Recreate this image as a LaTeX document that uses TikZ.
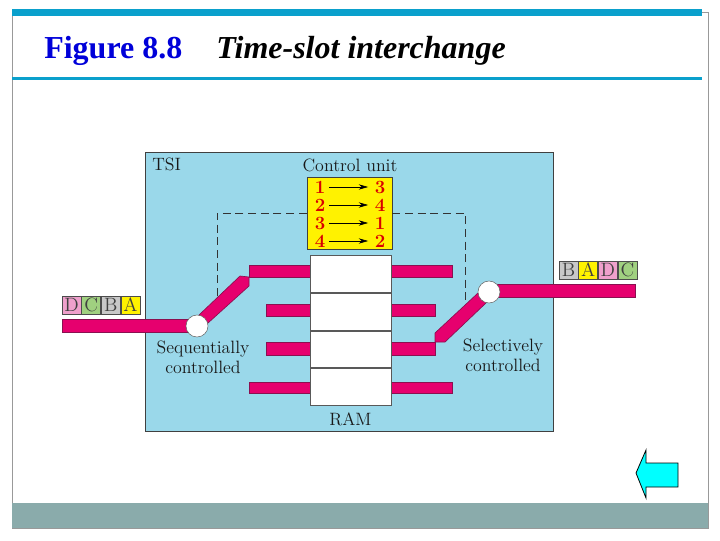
\documentclass[tikz,border=0pt]{standalone}
\usepackage{fontspec}
\newfontfamily\titlefont{Liberation Serif}
\usetikzlibrary{arrows.meta,positioning}

\begin{document}
\begin{tikzpicture}[x=0.75pt,y=-0.75pt,node distance=0pt and 0pt,
    >={Stealth[length=7pt,width=4pt]},
    lbl/.style={inner sep=0pt,align=center,font=\fontsize{13.4}{15}\selectfont,text=black!90},
    num/.style={inner sep=0pt,minimum width=13.5pt,font=\fontsize{14}{14}\selectfont\bfseries,text=red!85!black},
    cell/.style={draw=black!70,line width=0.5pt,minimum width=14.25pt,minimum height=13.5pt,inner sep=0pt,font=\fontsize{14.5}{14.5}\selectfont,text=black!75},
    slot/.style={draw=black!65,line width=0.6pt,fill=white,minimum width=60.75pt,minimum height=27.7pt,inner sep=0pt},
    bar/.style={draw=pinkdark,line width=0.5pt,fill=pinkbar},
    sw/.style={circle,draw=black!60,line width=0.4pt,fill=white,minimum size=16.5pt,inner sep=0pt},
    ctl/.style={dashed,dash pattern=on 6pt off 3.5pt,line width=0.5pt,draw=black!80}]
    \definecolor{pinkbar}{HTML}{E6006E}
    \definecolor{pinkdark}{HTML}{8A1050}
    \definecolor{tsiblue}{HTML}{9AD8EA}
    \definecolor{rulecol}{HTML}{0AA0CC}
    \definecolor{bandcol}{HTML}{8AABAB}
    \definecolor{cellpink}{HTML}{EFA0CC}
    \definecolor{cellgreen}{HTML}{A0D080}
    \definecolor{cellgray}{HTML}{C8C8C8}
    \definecolor{backcyan}{HTML}{00FFFF}
    \useasboundingbox (0,0) rectangle (720,540);
    % slide frame
    \draw[black!40,line width=0.6pt] (12,12) rectangle (708,528);
    \fill[bandcol] (12,503) rectangle (708,528);
    \fill[rulecol] (12,9) rectangle (702,16);
    \fill[rulecol] (12,77) rectangle (702,80);
    \node[anchor=base west,inner sep=0pt,font=\titlefont\bfseries\fontsize{24}{26}\selectfont,text=blue!85!black] (fig) at (44,58) {Figure 8.8};
    \node[anchor=base west,inner sep=0pt,font=\titlefont\bfseries\itshape\fontsize{24}{26}\selectfont] (name) at (216,58) {Time-slot interchange};
    % TSI box
    \node[draw=black!75,line width=0.7pt,fill=tsiblue,minimum width=306pt,minimum height=209.25pt,inner sep=0pt] (tsi) at (349,291.5) {};
    \node[lbl,anchor=base west] (tsilbl) at (152,170) {TSI};
    \node[lbl] (culbl) at (350,165) {Control unit};
    % control unit
    \node[draw=black!75,line width=0.5pt,fill=yellow,minimum width=63.75pt,minimum height=54pt,inner sep=0pt] (cu) at (349.5,213) {};
    \node[num] (a1) at (320,187) {1}; \node[num] (b1) at (380,187) {3};
    \node[num] (a2) at (320,205) {2}; \node[num] (b2) at (380,205) {4};
    \node[num] (a3) at (320,223) {3}; \node[num] (b3) at (380,223) {1};
    \node[num] (a4) at (320,241) {4}; \node[num] (b4) at (380,241) {2};
    \draw[->,shorten >=2pt] (a1)--(b1); \draw[->,shorten >=2pt] (a2)--(b2);
    \draw[->,shorten >=2pt] (a3)--(b3); \draw[->,shorten >=2pt] (a4)--(b4);
    % control lines
    \coordinate (ctlin) at (217,297);
    \coordinate (ctlout) at (465,303);
    \draw[ctl] (cu.west) -| (ctlin);
    \draw[ctl] (cu.east) -| (ctlout);
    % bars on the RAM
    \draw[bar] (249,265) rectangle (310,277);
    \draw[bar] (266,304) rectangle (310,316);
    \draw[bar] (266,342) rectangle (310,355);
    \draw[bar] (249,382) rectangle (310,393);
    \draw[bar] (391,265) rectangle (452,277);
    \draw[bar] (391,304) rectangle (435,316);
    \draw[bar] (391,342) rectangle (435,355);
    \draw[bar] (391,382) rectangle (452,393);
    % RAM
    \node[slot] (r1) at (350.5,273.9) {};
    \node[slot,below=of r1] (r2) {};
    \node[slot,below=of r2] (r3) {};
    \node[slot,below=of r3] (r4) {};
    \node[lbl,below=5pt of r4] (ramlbl) {RAM};
    % switches
    \draw[bar] (199,315) -- (240,276) -- (249,277) -- (249,286) -- (208,323) -- cycle;
    \draw[bar] (435,333) -- (478,293) -- (487,302) -- (445,342) -- (435,342) -- cycle;
    \draw[bar] (62,319) rectangle (190,332);
    \draw[bar] (496,284) rectangle (635,297);
    \node[sw] (swl) at (197,326) {};
    \node[sw] (swr) at (489,292) {};
    \node[lbl] (seqlbl) at (203,357) {Sequentially\\controlled};
    \node[lbl] (sellbl) at (503,355) {Selectively\\controlled};
    % time slots in and out
    \node[cell,fill=cellpink] (d1) at (71.5,305) {D};
    \node[cell,fill=cellgreen,right=of d1] (c1) {C};
    \node[cell,fill=cellgray,right=of c1] (b1c) {B};
    \node[cell,fill=yellow,right=of b1c] (a1c) {A};
    \node[cell,fill=cellgray] (b2c) at (568.5,270) {B};
    \node[cell,fill=yellow,right=of b2c] (a2c) {A};
    \node[cell,fill=cellpink,right=of a2c] (d2) {D};
    \node[cell,fill=cellgreen,right=of d2] (c2) {C};
    % back button
    \draw[black,line width=0.6pt,fill=backcyan] (636,473) -- (646,450) -- (646,463) -- (678,463) -- (678,487) -- (646,487) -- (646,498) -- cycle;
  \end{tikzpicture}
\end{document}
